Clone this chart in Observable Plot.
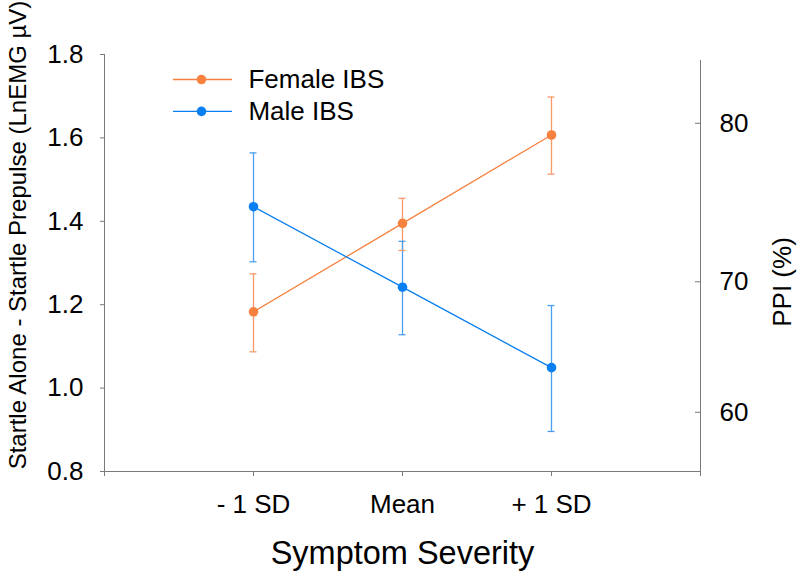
<!DOCTYPE html>
<html>
<head>
<meta charset="utf-8">
<script src="https://cdn.jsdelivr.net/npm/d3@7"></script>
<script src="https://cdn.jsdelivr.net/npm/@observablehq/plot@0.6"></script>
<style>
  html, body { margin: 0; padding: 0; background: white; }
</style>
</head>
<body>
<div id="chart"></div>
<script>
// ---- data ----
const categories = ["- 1 SD", "Mean", "+ 1 SD"];
const femaleMean  = [1.183, 1.395, 1.607];
const femaleUpper = [1.274, 1.455, 1.698];
const femaleLower = [1.087, 1.330, 1.513];
const maleMean    = [1.435, 1.242, 1.049];
const maleUpper   = [1.564, 1.352, 1.198];
const maleLower   = [1.303, 1.128, 0.896];
const seriesNames = ["Female IBS", "Male IBS"];
const yTicks = [0.8, 1.0, 1.2, 1.4, 1.6, 1.8];
const ppiTickLabels = ["60", "70", "80"];
const ppiTickOnLeftScale = [0.942, 1.255, 1.635];
const yTitle = "Startle Alone - Startle Prepulse (LnEMG µV)";
const y2Title = "PPI (%)";
const xTitle = "Symptom Severity";

// ---- styling / layout ----
const colors = {"Female IBS": "#f7813f", "Male IBS": "#0a7ff2"};
const errColors = {"Female IBS": "#f89a6c", "Male IBS": "#4a9ff0"};
const axisColor = "#7a7a7a";
const xDomain = [0, 4];
const xTickValues = [0, 1, 2, 3, 4];
const xTickLabels = ["", ...categories, ""];
const fs = 26;

const rows = [];
categories.forEach((c, i) => {
  rows.push({series: "Female IBS", x: i + 1, y: femaleMean[i], lo: femaleLower[i], hi: femaleUpper[i]});
});
categories.forEach((c, i) => {
  rows.push({series: "Male IBS", x: i + 1, y: maleMean[i], lo: maleLower[i], hi: maleUpper[i]});
});
const ppiMap = new Map(ppiTickOnLeftScale.map((p, i) => [p, ppiTickLabels[i]]));

// legend layout (in scale units)
const legend = seriesNames.map((s, i) => ({series: s, y: [1.7400, 1.6635][i]}));
const legX1 = 0.463, legX2 = 0.859, legDot = 0.651, legText = 0.966;

const chart = Plot.plot({
  width: 800,
  height: 576,
  marginLeft: 104,
  marginRight: 100,
  marginTop: 54,
  marginBottom: 105,
  style: {fontFamily: "'Liberation Sans', Arial, sans-serif", fontSize: fs + "px", background: "white", color: "black"},
  x: {domain: xDomain},
  y: {domain: [0.8, 1.8]},
  marks: [
    // axes lines
    Plot.ruleX([xDomain[0]], {y1: 0.8, y2: 1.8, stroke: axisColor}),
    Plot.ruleX([xDomain[1]], {y1: 0.8, y2: 1.8, stroke: axisColor, insetBottom: -6}),
    Plot.ruleY([0.8], {x1: xDomain[0], x2: xDomain[1], stroke: axisColor, insetLeft: -3}),
    Plot.axisY({ticks: yTicks, tickFormat: d3.format(".1f"), tickSize: 4, tickPadding: 17, fontSize: fs, stroke: axisColor, fill: "black", label: null}),
    Plot.axisX({ticks: xTickValues, tickFormat: d => xTickLabels[d], tickSize: 5, tickPadding: 18, fontSize: fs, stroke: axisColor, fill: "black", label: null}),
    // right axis
    Plot.ruleY(ppiTickOnLeftScale, {x1: xDomain[1], x2: xDomain[1], insetLeft: -5, stroke: axisColor}),
    Plot.axisY({anchor: "right", ticks: ppiTickOnLeftScale, tickFormat: d => ppiMap.get(d), tickSize: 0, tickPadding: 19, fontSize: fs, fill: "black", label: null}),
    // titles
    Plot.text([yTitle], {frameAnchor: "left", dx: -86, dy: -28, rotate: -90, textAnchor: "middle", lineAnchor: "middle", fontSize: 24, fill: "black"}),
    Plot.text([y2Title], {frameAnchor: "right", dx: 82, dy: 19, rotate: -90, textAnchor: "middle", lineAnchor: "middle", fontSize: fs, fill: "black"}),
    Plot.text([xTitle], {frameAnchor: "bottom", dy: 82, textAnchor: "middle", lineAnchor: "middle", fontSize: 32.5, fill: "black"}),
    // error bars
    Plot.ruleX(rows, {x: "x", y1: "lo", y2: "hi", stroke: d => errColors[d.series], strokeWidth: 1.3}),
    Plot.ruleY(rows, {y: "hi", x1: "x", x2: "x", insetLeft: -3.5, insetRight: -3.5, stroke: d => errColors[d.series], strokeWidth: 1.3}),
    Plot.ruleY(rows, {y: "lo", x1: "x", x2: "x", insetLeft: -3.5, insetRight: -3.5, stroke: d => errColors[d.series], strokeWidth: 1.3}),
    // lines and dots
    Plot.line(rows, {x: "x", y: "y", z: "series", stroke: d => colors[d.series], strokeWidth: 1.3}),
    Plot.dot(rows, {x: "x", y: "y", r: 4.8, fill: d => colors[d.series], stroke: "none"}),
    // legend
    Plot.ruleY(legend, {y: "y", x1: legX1, x2: legX2, stroke: d => colors[d.series], strokeWidth: 1.3}),
    Plot.dot(legend, {y: "y", x: legDot, r: 4.8, fill: d => colors[d.series], stroke: "none"}),
    Plot.text(legend, {y: "y", x: legText, text: "series", textAnchor: "start", lineAnchor: "middle", fontSize: fs, fill: "black"})
  ]
});
document.getElementById("chart").appendChild(chart);
</script>
</body>
</html>
